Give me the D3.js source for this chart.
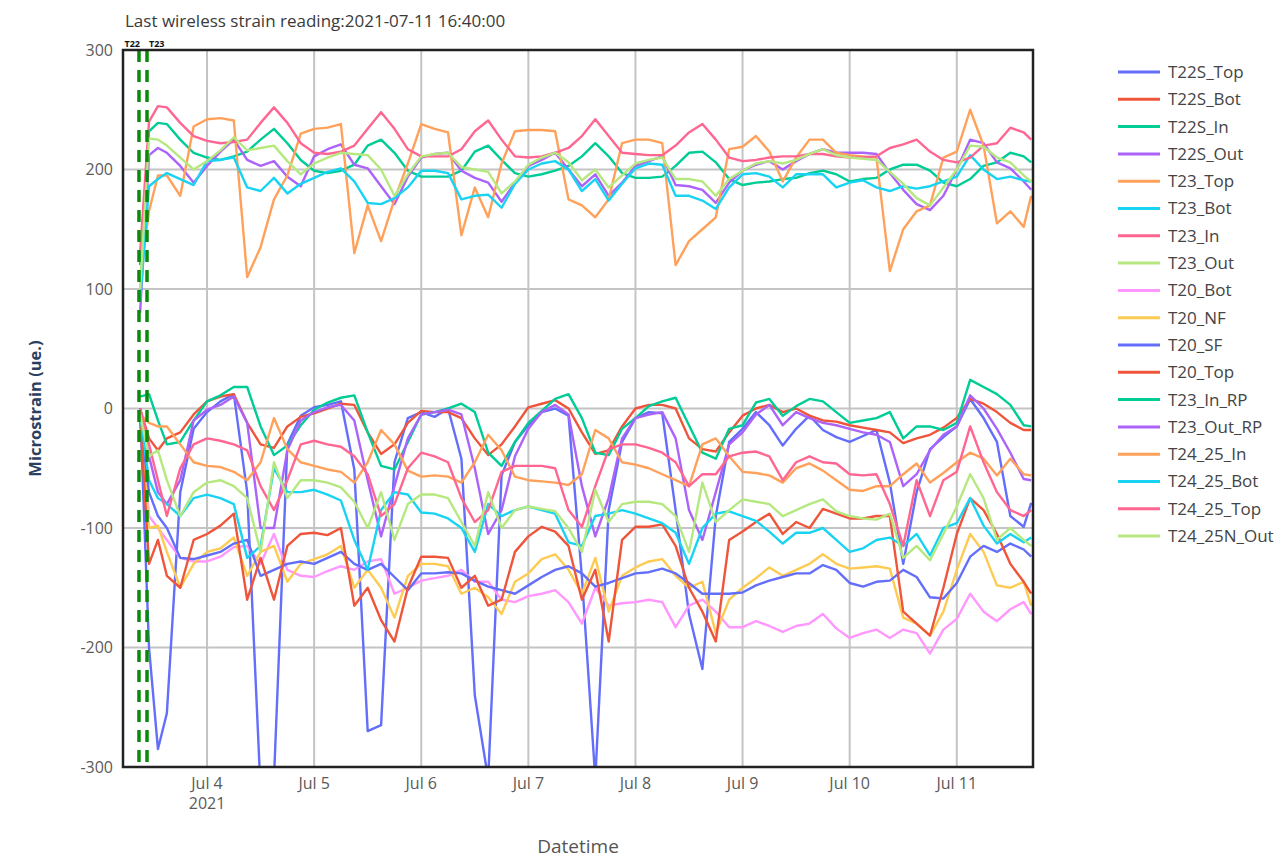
<!DOCTYPE html>
<html>
<head>
<meta charset="utf-8">
<script src="https://cdn.jsdelivr.net/npm/d3@7"></script>
<style>
  body { margin: 0; background: #fff; }
  text { font-family: "Open Sans", sans-serif; }
</style>
</head>
<body>
<div id="chart"></div>
<script>
// sample times, hours after 2021-07-03 00:00
var hours = [9, 11, 13, 15, 18, 21,
  24, 27, 30, 33, 36, 39, 42, 45,
  48, 51, 54, 57, 60, 63, 66, 69,
  72, 75, 78, 81, 84, 87, 90, 93,
  96, 99, 102, 105, 108, 111, 114, 117,
  120, 123, 126, 129, 132, 135, 138, 141,
  144, 147, 150, 153, 156, 159, 162, 165,
  168, 171, 174, 177, 180, 183, 186, 189,
  192, 195, 198, 201, 204, 207, 208.67];

var T22S_Top = [0, -200, -285, -255, -70, -17,
  -3, 6, 12, -70, -320, -310, -30, -6,
  1, 3, 6, -51, -270, -265, -45, -8,
  -3, -7, 0, -42, -240, -310, -56, -28,
  -14, -3, 0, -6, -141, -310, -85, -28,
  -8, -3, -4, -85, -172, -218, -90, -28,
  -17, -3, -14, -31, -17, -6, -18, -24,
  -28, -23, -18, -62, -130, -70, -34, -24,
  -15, 8, -8, -28, -90, -99, -79];
var T22S_Bot = [0, -25, -35, -25, -20, -5,
  6, 10, 12, -12, -30, -33, -15, -7,
  -4, 0, 4, 3, -20, -38, -30, -12,
  -2, -3, -3, -8, -25, -39, -30, -15,
  1, 4, 7, 0, -20, -38, -35, -15,
  0, 3, 3, 0, -25, -34, -36, -20,
  -6, 0, 3, -3, 0, -6, -10, -11,
  -14, -16, -18, -20, -29, -25, -22, -16,
  -8, 8, 4, -3, -12, -18, -18];
var T22S_In = [120, 232, 239, 238, 225, 214,
  210, 208, 211, 215, 225, 234, 222, 208,
  199, 197, 199, 204, 220, 225, 214, 199,
  194, 194, 194, 199, 215, 220, 208, 197,
  194, 196, 199, 203, 211, 222, 211, 197,
  193, 193, 194, 203, 214, 215, 206, 192,
  187, 189, 190, 192, 193, 197, 199, 196,
  190, 192, 193, 200, 204, 204, 199, 189,
  186, 192, 203, 206, 214, 211, 206];
var T22S_Out = [80, 212, 218, 214, 203, 189,
  203, 215, 225, 208, 203, 207, 194, 186,
  211, 217, 221, 204, 201, 186, 171, 194,
  210, 213, 214, 199, 193, 189, 173, 189,
  203, 208, 214, 200, 186, 196, 178, 189,
  203, 207, 211, 187, 186, 183, 172, 189,
  199, 204, 207, 200, 207, 213, 217, 214,
  214, 214, 213, 197, 183, 171, 166, 178,
  200, 225, 222, 206, 201, 190, 183];
var T23_Top = [110, 165, 195, 195, 178, 236,
  242, 243, 241, 110, 135, 175, 195, 230,
  234, 235, 238, 130, 170, 140, 175, 205,
  238, 234, 231, 145, 185, 160, 205, 232,
  233, 233, 232, 175, 170, 160, 175, 222,
  225, 225, 222, 120, 140, 150, 160, 217,
  219, 228, 215, 190, 210, 225, 225, 214,
  212, 211, 210, 115, 150, 165, 170, 210,
  215, 250, 220, 155, 165, 152, 178];
var T23_Bot = [90, 186, 192, 197, 192, 187,
  207, 208, 210, 185, 182, 193, 180, 188,
  193, 198, 201, 190, 172, 171, 176, 185,
  199, 199, 197, 175, 178, 179, 168, 188,
  200, 205, 207, 200, 182, 192, 174, 188,
  201, 205, 204, 178, 178, 174, 167, 185,
  196, 197, 194, 185, 196, 196, 196, 185,
  189, 191, 185, 182, 186, 184, 186, 190,
  194, 212, 200, 192, 194, 191, 190];
var T23_In = [130, 240, 253, 252, 239, 228,
  224, 222, 223, 225, 239, 252, 239, 222,
  214, 213, 215, 220, 234, 248, 234, 217,
  211, 211, 211, 217, 232, 241, 225, 211,
  210, 211, 214, 218, 228, 242, 228, 214,
  213, 212, 212, 220, 231, 238, 225, 210,
  207, 208, 210, 211, 211, 213, 213, 211,
  210, 210, 211, 218, 221, 225, 215, 208,
  206, 210, 220, 222, 235, 231, 225];
var T23_Out = [100, 226, 225, 220, 210, 200,
  207, 216, 227, 216, 218, 220, 207, 196,
  205, 210, 214, 213, 212, 200, 178, 196,
  211, 213, 214, 202, 200, 198, 180, 190,
  204, 210, 214, 206, 191, 200, 185, 195,
  205, 208, 210, 192, 192, 190, 178, 192,
  199, 205, 207, 205, 208, 213, 217, 212,
  210, 209, 208, 198, 188, 176, 170, 185,
  200, 220, 219, 210, 206, 195, 190];
var T20_Bot = [-5, -90, -100, -110, -125, -128,
  -128, -124, -116, -115, -130, -105, -135, -140,
  -141, -136, -132, -135, -128, -126, -155, -150,
  -144, -142, -140, -135, -145, -145, -160, -162,
  -157, -155, -152, -162, -180, -150, -165, -163,
  -162, -160, -162, -183, -165, -160, -170, -183,
  -183, -178, -182, -187, -182, -180, -172, -184,
  -192, -188, -185, -192, -185, -188, -205, -185,
  -176, -155, -170, -178, -168, -162, -172];
var T20_NF = [-5, -100, -98, -120, -150, -130,
  -120, -117, -108, -140, -120, -115, -145, -130,
  -126, -122, -115, -150, -135, -150, -175, -140,
  -130, -130, -132, -155, -150, -158, -172, -145,
  -138, -126, -122, -135, -155, -125, -170, -140,
  -133, -128, -126, -140, -150, -145, -188, -160,
  -150, -142, -133, -140, -135, -130, -122, -130,
  -134, -133, -132, -134, -175, -180, -190, -170,
  -135, -105, -120, -148, -150, -145, -165];
var T20_SF = [-10, -70, -90, -100, -125, -126,
  -123, -120, -113, -110, -140, -135, -130, -128,
  -130, -125, -120, -130, -135, -130, -141, -152,
  -138, -138, -137, -138, -144, -149, -152, -155,
  -148, -141, -135, -132, -138, -149, -146, -142,
  -138, -137, -134, -138, -146, -155, -155, -155,
  -154, -148, -144, -141, -138, -138, -131, -135,
  -146, -149, -145, -144, -135, -141, -158, -159,
  -146, -124, -115, -120, -113, -118, -124];
var T20_Top = [-5, -130, -110, -140, -150, -110,
  -105, -98, -88, -160, -125, -160, -115, -105,
  -104, -106, -100, -165, -150, -177, -195, -150,
  -124, -124, -125, -150, -140, -165, -160, -120,
  -107, -99, -103, -115, -160, -135, -195, -110,
  -99, -99, -97, -115, -150, -170, -195, -110,
  -103, -95, -88, -105, -95, -100, -84, -88,
  -92, -92, -90, -90, -170, -180, -190, -150,
  -105, -75, -85, -105, -130, -145, -155];
var T23_In_RP = [10, 12, -10, -30, -28, -10,
  6, 11, 18, 18, -15, -39, -31, -14,
  -1, 5, 9, 11, -20, -48, -51, -28,
  -5, -3, 0, 4, -3, -37, -48, -28,
  -12, -2, 8, 12, -8, -37, -39, -17,
  -8, 2, 6, 9, -14, -37, -42, -17,
  -14, 5, 8, -6, 2, 8, 6, -3,
  -12, -10, -8, -3, -25, -15, -15, -18,
  -12, 24, 18, 12, 3, -14, -15];
var T23_Out_RP = [0, -40, -70, -80, -60, -10,
  -1, 3, 10, -12, -100, -100, -35, -10,
  -3, 1, 3, -10, -60, -107, -65, -25,
  -5, -3, -1, -5, -50, -105, -85, -40,
  -17, -3, 3, -5, -65, -107, -75, -25,
  -8, -5, -3, -25, -85, -110, -70, -30,
  -20, -5, 3, -14, -3, -8, -12, -14,
  -17, -20, -22, -28, -65, -55, -35, -22,
  -15, 11, 0, -17, -37, -59, -60];
var T24_25_In = [-5, -12, -15, -15, -30, -45,
  -48, -49, -53, -60, -45, -8, -34, -45,
  -48, -51, -53, -62, -45, -18, -30, -52,
  -57, -56, -57, -62, -45, -22, -35, -57,
  -60, -61, -62, -64, -55, -18, -25, -45,
  -47, -50, -55, -60, -65, -30, -25, -40,
  -53, -54, -56, -62, -50, -46, -52, -60,
  -68, -69, -65, -65, -55, -46, -62, -54,
  -45, -37, -42, -56, -42, -55, -56];
var T24_25_Bot = [-5, -60, -75, -80, -90, -75,
  -72, -75, -80, -125, -115, -50, -70, -70,
  -68, -72, -77, -110, -135, -85, -70, -72,
  -87, -88, -92, -100, -120, -80, -90, -85,
  -82, -85, -88, -112, -115, -90, -88, -85,
  -88, -92, -96, -104, -130, -100, -88, -86,
  -90, -94, -103, -113, -104, -104, -100, -110,
  -120, -117, -110, -108, -115, -105, -123, -100,
  -96, -75, -98, -113, -105, -112, -108];
var T24_25_Top = [0, -30, -60, -90, -50, -30,
  -25, -27, -30, -35, -65, -85, -60, -30,
  -27, -30, -32, -40, -55, -90, -80, -50,
  -37, -40, -45, -75, -95, -85, -53, -48,
  -48, -48, -50, -85, -99, -65, -34, -30,
  -30, -33, -37, -45, -65, -55, -55, -40,
  -37, -36, -40, -60, -45, -40, -45, -46,
  -55, -56, -55, -80, -115, -60, -90, -60,
  -53, -15, -45, -70, -85, -90, -85];
var T24_25N_Out = [-5, -40, -35, -60, -90, -70,
  -62, -60, -65, -75, -120, -45, -75, -60,
  -60, -62, -66, -78, -100, -70, -110, -80,
  -72, -72, -75, -95, -115, -70, -100, -85,
  -82, -84, -86, -100, -120, -68, -95, -80,
  -78, -78, -80, -90, -120, -62, -95, -85,
  -76, -78, -80, -90, -85, -80, -76, -86,
  -90, -92, -93, -88, -125, -115, -127, -105,
  -82, -55, -75, -110, -100, -110, -115];

var seriesNames = ["T22S_Top", "T22S_Bot", "T22S_In", "T22S_Out", "T23_Top", "T23_Bot",
  "T23_In", "T23_Out", "T20_Bot", "T20_NF", "T20_SF", "T20_Top", "T23_In_RP",
  "T23_Out_RP", "T24_25_In", "T24_25_Bot", "T24_25_Top", "T24_25N_Out"];
var seriesValues = [T22S_Top, T22S_Bot, T22S_In, T22S_Out, T23_Top, T23_Bot,
  T23_In, T23_Out, T20_Bot, T20_NF, T20_SF, T20_Top, T23_In_RP,
  T23_Out_RP, T24_25_In, T24_25_Bot, T24_25_Top, T24_25N_Out];
var palette = ["#636efa", "#EF553B", "#00cc96", "#ab63fa", "#FFA15A",
  "#19d3f3", "#FF6692", "#B6E880", "#FF97FF", "#FECB52"];

// event markers (green dashed) near the start
var markerHours = [8.75, 10.55];
var markerLabels = ["T22", "T23"];

var yTicks = [-300, -200, -100, 0, 100, 200, 300];
var xTickDays = [4, 5, 6, 7, 8, 9, 10, 11];
var titleText = "Last wireless strain reading:2021-07-11 16:40:00";

// set the dimensions and margins of the graph
var margin = {top: 50, right: 245, bottom: 93, left: 123},
    width = 1278 - margin.left - margin.right,
    height = 860 - margin.top - margin.bottom;

var base = new Date(2021, 6, 3, 0, 0, 0);
var toDate = function (h) { return new Date(base.getTime() + h * 3600 * 1000); };

var svg = d3.select("#chart")
  .append("svg")
    .attr("width", 1278)
    .attr("height", 860)
  .append("g")
    .attr("transform", "translate(" + margin.left + "," + margin.top + ")");

var x = d3.scaleTime()
  .domain([toDate(5.17), toDate(209.08)])
  .range([0, width]);
var y = d3.scaleLinear()
  .domain([-300, 300])
  .range([height, 0]);

// grid
svg.append("g").selectAll("line")
  .data(xTickDays)
  .enter().append("line")
    .attr("x1", d => x(new Date(2021, 6, d)))
    .attr("x2", d => x(new Date(2021, 6, d)))
    .attr("y1", 0).attr("y2", height)
    .style("stroke", "#c4c4c4").style("stroke-width", 2);
svg.append("g").selectAll("line")
  .data(yTicks)
  .enter().append("line")
    .attr("x1", 0).attr("x2", width)
    .attr("y1", d => y(d)).attr("y2", d => y(d))
    .style("stroke", "#c4c4c4").style("stroke-width", 2);

// tick labels
svg.append("g").selectAll("text")
  .data(yTicks)
  .enter().append("text")
    .attr("x", -10)
    .attr("y", d => y(d))
    .attr("dy", "0.35em")
    .attr("text-anchor", "end")
    .style("font-size", "16px")
    .style("fill", "#5a5a5a")
    .text(d => d);

svg.append("g").selectAll("text")
  .data(xTickDays)
  .enter().append("text")
    .attr("x", d => x(new Date(2021, 6, d)))
    .attr("y", height + 22)
    .attr("text-anchor", "middle")
    .style("font-size", "16px")
    .style("fill", "#5a5a5a")
    .text(d => d3.timeFormat("%b %-d")(new Date(2021, 6, d)));
svg.append("text")
  .attr("x", x(new Date(2021, 6, xTickDays[0])))
  .attr("y", height + 42)
  .attr("text-anchor", "middle")
  .style("font-size", "16px")
  .style("fill", "#5a5a5a")
  .text("2021");

// clip for the lines
svg.append("clipPath").attr("id", "plotclip")
  .append("rect").attr("x", 0).attr("y", 0).attr("width", width).attr("height", height);

var line = d3.line()
  .x((d, i) => x(toDate(hours[i])))
  .y(d => y(d));

var plot = svg.append("g").attr("clip-path", "url(#plotclip)");
plot.selectAll("path.series")
  .data(seriesValues)
  .enter().append("path")
    .attr("class", "series")
    .attr("d", d => line(d))
    .style("fill", "none")
    .style("stroke", (d, i) => palette[i % palette.length])
    .style("stroke-width", 2.4)
    .style("stroke-linejoin", "round");

// markers
svg.append("g").selectAll("line")
  .data(markerHours)
  .enter().append("line")
    .attr("x1", d => x(toDate(d))).attr("x2", d => x(toDate(d)))
    .attr("y1", 0).attr("y2", height)
    .style("stroke", "#0a8a0a")
    .style("stroke-width", 3.5)
    .style("stroke-dasharray", "12,8");
// labels sit side by side, the first ends at its marker, the second starts at its own
svg.append("g").selectAll("text")
  .data(markerHours)
  .enter().append("text")
    .attr("x", (d, i) => x(toDate(d)) + (i === 0 ? 1 : 2))
    .attr("y", -3)
    .attr("text-anchor", (d, i) => i === 0 ? "end" : "start")
    .style("font-size", "9px")
    .style("font-weight", "bold")
    .style("fill", "#111")
    .text((d, i) => markerLabels[i]);

// frame
svg.append("rect")
  .attr("x", 0).attr("y", 0)
  .attr("width", width).attr("height", height)
  .style("fill", "none")
  .style("stroke", "#222")
  .style("stroke-width", 2.5);

// title and axis titles
svg.append("text")
  .attr("x", 2)
  .attr("y", -23)
  .style("font-size", "17px")
  .style("fill", "#3a3a3a")
  .text(titleText);

svg.append("text")
  .attr("transform", "rotate(-90)")
  .attr("x", -height / 2)
  .attr("y", -82)
  .attr("text-anchor", "middle")
  .style("font-size", "16.5px")
  .style("font-weight", "bold")
  .style("fill", "#2a3f5f")
  .text("Microstrain (ue.)");

svg.append("text")
  .attr("x", width / 2)
  .attr("y", height + 86)
  .attr("text-anchor", "middle")
  .style("font-size", "19px")
  .style("fill", "#555")
  .text("Datetime");

// legend
var legend = svg.append("g")
  .attr("transform", "translate(" + (1118 - margin.left) + "," + (72 - margin.top) + ")");
var rows = legend.selectAll("g")
  .data(seriesNames)
  .enter().append("g")
    .attr("transform", (d, i) => "translate(0," + (i * 27.3) + ")");
rows.append("line")
  .attr("x1", 0).attr("x2", 42)
  .attr("y1", 0).attr("y2", 0)
  .style("stroke", (d, i) => palette[i % palette.length])
  .style("stroke-width", 3);
rows.append("text")
  .attr("x", 50)
  .attr("y", 0)
  .attr("dy", "0.35em")
  .style("font-size", "17px")
  .style("fill", "#444")
  .text(d => d);
</script>
</body>
</html>
